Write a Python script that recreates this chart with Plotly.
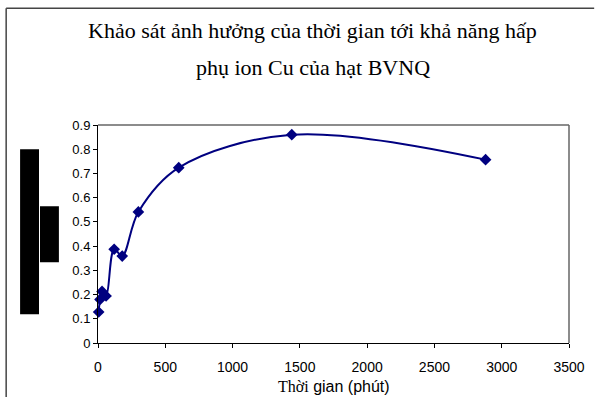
import plotly.graph_objects as go

# Adsorption of Cu ions vs contact time
time_min = [5, 15, 30, 60, 120, 180, 300, 600, 1440, 2880]
adsorption = [0.128, 0.18, 0.213, 0.194, 0.387, 0.359, 0.541, 0.724, 0.860, 0.757]

title_line1 = "Khảo sát ảnh hưởng của thời gian tới khả năng hấp"
title_line2 = "phụ ion Cu của hạt BVNQ"
x_title = '<span style="font-family:Liberation Serif">Thời</span> gian (phút)'

W, H = 597, 397
L, R, T, B = 98.3, 25.3, 124.7, 54.3
pw, ph = W - L - R, H - T - B


def px(x):
    return (x - L) / pw


def py(y):
    return (H - B - y) / ph


fig = go.Figure()
fig.add_trace(go.Scatter(
    x=time_min, y=adsorption, mode="lines+markers",
    line=dict(color="#000080", width=2, shape="spline", smoothing=1),
    marker=dict(symbol="diamond", size=9, color="#000080"),
    showlegend=False, cliponaxis=False,
))

fig.update_xaxes(
    range=[0, 3500], dtick=500, tick0=0, showgrid=False, zeroline=False,
    showline=True, linecolor="#000000", linewidth=1,
    ticks="outside", ticklen=4, tickcolor="#000000", ticklabelstandoff=7,
    tickfont=dict(family="Liberation Sans, Arial", size=14, color="#000000"),
)
fig.update_yaxes(
    range=[0, 0.9], dtick=0.1, tick0=0, showgrid=False, zeroline=False,
    showline=True, linecolor="#000000", linewidth=1,
    ticks="outside", ticklen=4, tickcolor="#000000",
    tickfont=dict(family="Liberation Sans, Arial", size=13, color="#000000"),
)

shapes = [
    # plot area border (top and right)
    dict(type="line", xref="paper", yref="paper", x0=0, x1=1, y0=1, y1=1,
         line=dict(color="#666666", width=1.5)),
    dict(type="line", xref="paper", yref="paper", x0=1, x1=1, y0=0, y1=1,
         line=dict(color="#666666", width=1.5)),
    # chart frame
    dict(type="line", xref="paper", yref="paper", x0=px(6), x1=px(597),
         y0=py(8), y1=py(8), line=dict(color="#444444", width=1.5)),
    dict(type="line", xref="paper", yref="paper", x0=px(6), x1=px(6),
         y0=py(8), y1=py(397), line=dict(color="#444444", width=1.5)),
    # black blocks over the axis title
    dict(type="rect", xref="paper", yref="paper", x0=px(20), x1=px(39),
         y0=py(314), y1=py(149), fillcolor="#000000", line=dict(width=0)),
    dict(type="rect", xref="paper", yref="paper", x0=px(40), x1=px(59),
         y0=py(262), y1=py(206), fillcolor="#000000", line=dict(width=0)),
]

title_font = dict(family="Liberation Serif, Times New Roman", size=22, color="#000000")
annotations = [
    dict(text=title_line1, xref="paper", yref="paper", x=px(314), y=py(30),
         xanchor="center", yanchor="middle", showarrow=False, font=title_font),
    dict(text=title_line2, xref="paper", yref="paper", x=px(314), y=py(67),
         xanchor="center", yanchor="middle", showarrow=False, font=title_font),
    dict(text=x_title, xref="paper", yref="paper", x=0.5, y=py(386),
         xanchor="center", yanchor="middle", showarrow=False,
         font=dict(family="Liberation Sans, Arial", size=16, color="#000000")),
]

fig.update_layout(
    width=W, height=H,
    margin=dict(l=L, r=R, t=T, b=B),
    paper_bgcolor="#ffffff", plot_bgcolor="#ffffff",
    shapes=shapes, annotations=annotations,
)

fig.write_html("out.html")
